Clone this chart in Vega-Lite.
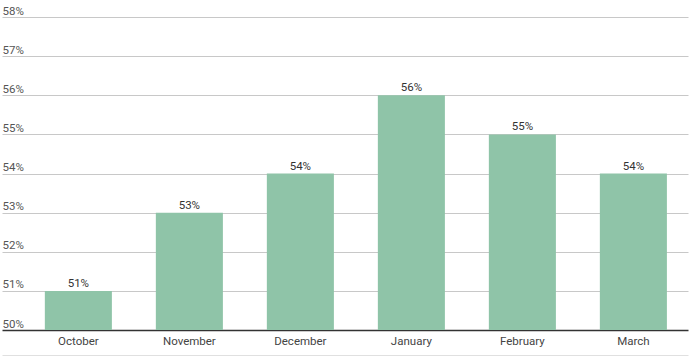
{
  "$schema": "https://vega.github.io/schema/vega-lite/v6.json",
  "width": 686,
  "height": 313,
  "autosize": {"type": "none"},
  "padding": {"left": 2, "right": 2, "top": 17, "bottom": 27},
  "background": "white",
  "config": {"view": {"stroke": null}, "font": "Roboto"},
  "data": {"values": [
    {"month": "October", "value": 51, "label": "51%"},
    {"month": "November", "value": 53, "label": "53%"},
    {"month": "December", "value": 54, "label": "54%"},
    {"month": "January", "value": 56, "label": "56%"},
    {"month": "February", "value": 55, "label": "55%"},
    {"month": "March", "value": 54, "label": "54%"}
  ]},
  "encoding": {
    "x": {"field": "month", "type": "nominal", "sort": null,
      "scale": {"paddingInner": 0.396, "paddingOuter": 0.288, "align": 0.67},
      "axis": {"title": null, "orient": "bottom", "offset": 25, "domainColor": "#e0e0e0", "domainWidth": 1,
        "ticks": false, "labelAngle": 0, "labelBaseline": "middle", "labelPadding": -14,
        "labelFont": "Roboto", "labelFontSize": 11.5, "labelColor": "#444", "grid": false}},
    "y": {"field": "value", "type": "quantitative",
      "scale": {"domain": [50, 58], "zero": false, "nice": false},
      "axis": {"title": null, "values": [50, 51, 52, 53, 54, 55, 56, 57, 58], "labelExpr": "datum.value + '%'",
        "domain": false, "ticks": false, "tickSize": 0, "labelPadding": 0, "labelAlign": "left",
        "labelBaseline": "alphabetic", "labelOffset": -3, "labelFont": "Roboto", "labelFontSize": 11.5, "labelColor": "#555",
        "grid": true,
        "gridColor": {"condition": {"test": "datum.value === 50", "value": "#333"}, "value": "#c8c8c8"},
        "gridWidth": {"condition": {"test": "datum.value === 50", "value": 1.5}, "value": 1}}}
  },
  "layer": [
    {"mark": {"type": "bar", "color": "#8fc4a8"}, "encoding": {"y2": {"datum": 50}}},
    {"mark": {"type": "text", "baseline": "bottom", "dy": -2, "font": "Roboto", "fontSize": 11.5, "color": "#333"},
      "encoding": {"text": {"field": "label", "type": "nominal"}}}
  ]
}
